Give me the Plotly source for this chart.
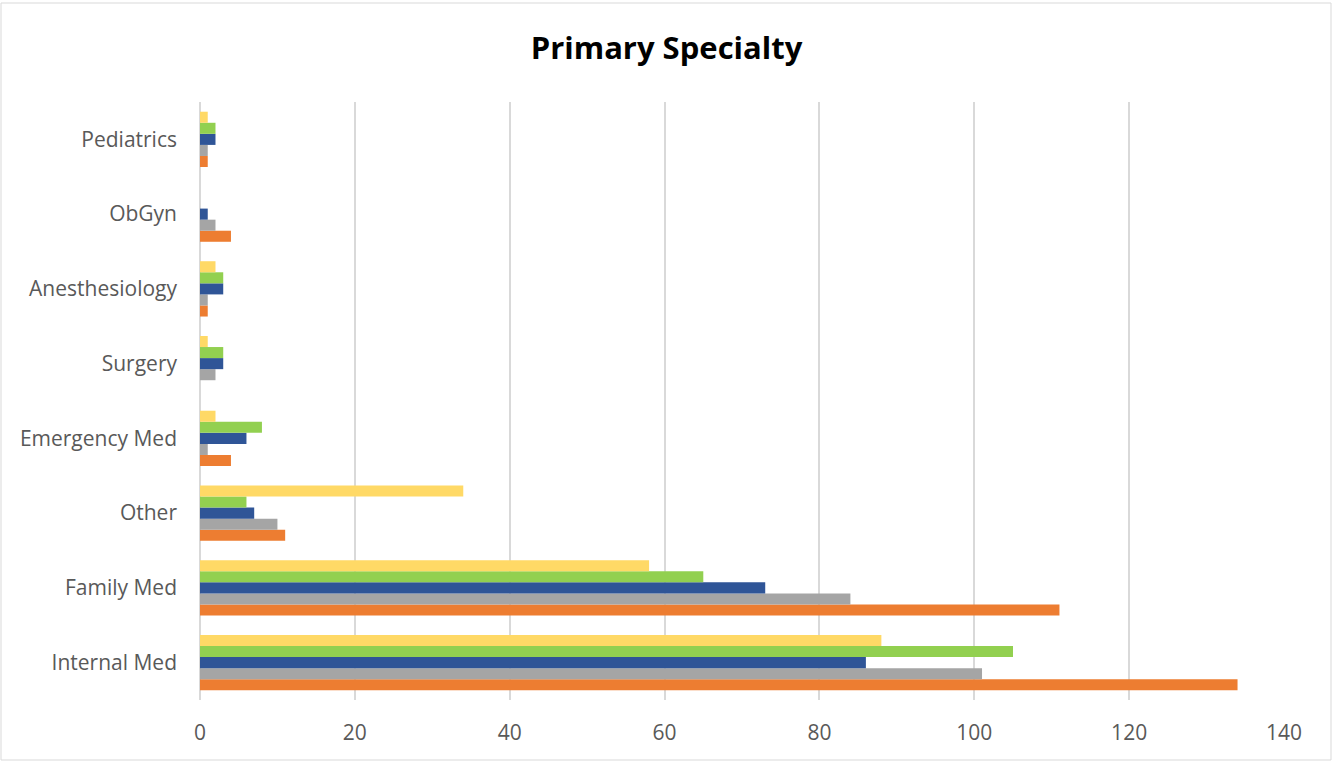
import plotly.graph_objects as go

categories = ["Internal Med", "Family Med", "Other", "Emergency Med", "Surgery",
              "Anesthesiology", "ObGyn", "Pediatrics"]
series_names = ["Series 1", "Series 2", "Series 3", "Series 4", "Series 5"]
orange_vals = [134, 111, 11, 4, 0, 1, 4, 1]
gray_vals = [101, 84, 10, 1, 2, 1, 2, 1]
blue_vals = [86, 73, 7, 6, 3, 3, 1, 2]
green_vals = [105, 65, 6, 8, 3, 3, 0, 2]
yellow_vals = [88, 58, 34, 2, 1, 2, 0, 1]
colors = ["#ED7D31", "#A5A5A5", "#2F5597", "#92D050", "#FFD966"]
x_ticks = [0, 20, 40, 60, 80, 100, 120, 140]

W, H = 1333, 762
ml, mr, mt, mb = 200, 49, 102, 62
FONT = "Open Sans, Lato, sans-serif"

fig = go.Figure()
for name, vals, c in zip(series_names,
                         [orange_vals, gray_vals, blue_vals, green_vals, yellow_vals],
                         colors):
    fig.add_trace(go.Bar(y=categories, x=vals, name=name, orientation="h",
                         marker=dict(color=c, line=dict(width=0))))

pw, ph = W - ml - mr, H - mt - mb
fig.add_shape(type="rect", xref="paper", yref="paper",
              x0=(1 - ml) / pw, x1=(W - 2 - ml) / pw,
              y0=-(mb - 2) / ph, y1=1 + (mt - 3) / ph,
              line=dict(color="#D9D9D9", width=1), fillcolor="rgba(0,0,0,0)")

fig.update_layout(
    width=W, height=H,
    margin=dict(l=ml, r=mr, t=mt, b=mb),
    barmode="group", bargap=0.26, bargroupgap=0,
    paper_bgcolor="white", plot_bgcolor="white",
    showlegend=False,
    font=dict(family=FONT, color="#595959", size=21),
    title=dict(text="<b>Primary Specialty</b>", x=0.5, xanchor="center",
               y=1 - 48 / H, yanchor="middle",
               font=dict(size=31, color="black", family=FONT)),
    xaxis=dict(range=[0, 140], tickvals=x_ticks, showgrid=True,
               gridcolor="#D9D9D9", gridwidth=2, zeroline=True,
               zerolinecolor="#D9D9D9", zerolinewidth=2, showline=False,
               ticks="", ticklabelstandoff=18, tickfont=dict(size=21)),
    yaxis=dict(categoryorder="array", categoryarray=categories,
               showgrid=False, zeroline=False, showline=False, ticks="",
               ticklabelstandoff=22, tickfont=dict(size=21)),
)

fig.write_html("out.html")
